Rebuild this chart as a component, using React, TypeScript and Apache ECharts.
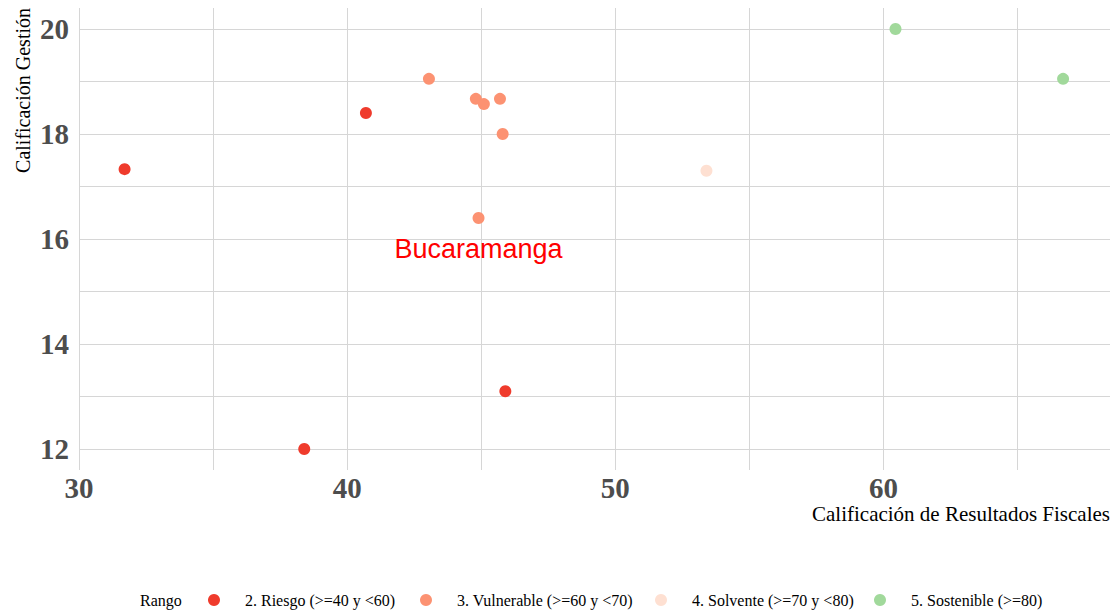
import React, { useEffect, useRef } from "react";
import * as echarts from "echarts";

// ---- data ----
const rangeNames = [
  "2. Riesgo (>=40 y <60)",
  "3. Vulnerable (>=60 y <70)",
  "4. Solvente (>=70 y <80)",
  "5. Sostenible (>=80)",
];
const rangeColors = ["#EF3B2C", "#FC9272", "#FEE0D2", "#A1D99B"];

const riesgoX = [31.7, 38.4, 40.7, 45.9];
const riesgoY = [17.33, 12.0, 18.4, 13.1];
const vulnerableX = [43.05, 44.8, 45.1, 45.7, 45.8, 44.9];
const vulnerableY = [19.05, 18.67, 18.57, 18.67, 18.0, 16.4];
const solventeX = [53.4];
const solventeY = [17.3];
const sostenibleX = [60.45, 66.7];
const sostenibleY = [20.0, 19.05];

const highlightName = "Bucaramanga";
const highlightIndex = 5; // within vulnerable series

const xMinorGrid = [35, 45, 55, 65];
const yMinorGrid = [13, 15, 17, 19];

const xTitle = "Calificación de Resultados Fiscales";
const yTitle = "Calificación Gestión";
const legendTitle = "Rango";

const SERIF = "'Liberation Serif', 'Times New Roman', serif";

export default function App() {
  const ref = useRef<HTMLDivElement>(null);

  useEffect(() => {
    if (!ref.current) return;
    const chart = echarts.init(ref.current, undefined, { renderer: "svg" });

    const zip = (xs: number[], ys: number[]) => xs.map((x, i) => [x, ys[i]]);
    const groups = [
      zip(riesgoX, riesgoY),
      zip(vulnerableX, vulnerableY),
      zip(solventeX, solventeY),
      zip(sostenibleX, sostenibleY),
    ];

    const gridColor = "#D6D6D6";

    const series: any[] = groups.map((pts, gi) => ({
      type: "scatter",
      name: rangeNames[gi],
      symbol: "circle",
      symbolSize: 12,
      itemStyle: { color: rangeColors[gi], opacity: 1 },
      z: 3,
      data: pts.map((p, i) => {
        if (gi === 1 && i === highlightIndex) {
          return {
            value: p,
            label: {
              show: true,
              formatter: highlightName,
              position: "bottom",
              distance: 11,
              color: "#FF0000",
              fontSize: 27,
              fontFamily: "'Liberation Sans', Arial, sans-serif",
            },
          };
        }
        return { value: p };
      }),
    }));

    series[2].markLine = {
      silent: true,
      symbol: "none",
      z: 1,
      label: { show: false },
      lineStyle: { color: gridColor, width: 1, type: "solid" },
      emphasis: { disabled: true },
      data: [
        ...xMinorGrid.map((v) => ({ xAxis: v })),
        ...yMinorGrid.map((v) => ({ yAxis: v })),
      ],
    };

    // left = icon centre - 6 (layout aligns to icon's bounding box)
    const legendLefts = [208, 420, 655, 874];

    const tickLabel = {
      color: "#4D4D4D",
      fontSize: 29,
      fontWeight: "bold",
      fontFamily: SERIF,
    };

    chart.setOption({
      animation: false,
      backgroundColor: "#FFFFFF",
      grid: { left: 79, right: 4, top: 8, bottom: 141, containLabel: false },
      xAxis: {
        type: "value",
        min: 30,
        max: 68.45,
        interval: 10,
        axisLine: { show: false },
        axisTick: { show: false },
        axisLabel: { ...tickLabel, margin: 3, showMaxLabel: false },
        splitLine: {
          show: true,
          showMaxLine: false,
          lineStyle: { color: gridColor, width: 1 },
        },
      },
      yAxis: {
        type: "value",
        min: 11.6,
        max: 20.4,
        splitNumber: 5,
        axisLine: { show: false },
        axisTick: { show: false },
        axisLabel: {
          ...tickLabel,
          margin: 10,
          showMinLabel: false,
          showMaxLabel: false,
        },
        splitLine: {
          show: true,
          showMinLine: false,
          showMaxLine: false,
          lineStyle: { color: gridColor, width: 1 },
        },
      },
      legend: rangeNames.map((n, i) => ({
        data: [{ name: n, icon: "circle" }],
        left: legendLefts[i],
        top: 591,
        padding: 0,
        itemWidth: 52,
        itemHeight: 12,
        selectedMode: false,
        textStyle: {
          fontFamily: SERIF,
          fontSize: 16,
          color: "#000000",
          lineHeight: 18,
        },
      })),
      graphic: [
        {
          type: "text",
          x: 1110,
          y: 514,
          style: {
            text: xTitle,
            align: "right",
            verticalAlign: "middle",
            fontFamily: SERIF,
            fontSize: 21,
            fill: "#000000",
          },
        },
        {
          type: "text",
          x: 23,
          y: 8,
          rotation: Math.PI / 2,
          style: {
            text: yTitle,
            align: "right",
            verticalAlign: "middle",
            fontFamily: SERIF,
            fontSize: 20,
            fill: "#000000",
          },
        },
        {
          type: "text",
          x: 140,
          y: 600,
          style: {
            text: legendTitle,
            align: "left",
            verticalAlign: "middle",
            fontFamily: SERIF,
            fontSize: 16,
            fill: "#000000",
          },
        },
      ],
      series,
    });

    return () => chart.dispose();
  }, []);

  return (
    <div
      ref={ref}
      style={{ position: "fixed", left: 0, top: 0, width: 1114, height: 611 }}
    />
  );
}
